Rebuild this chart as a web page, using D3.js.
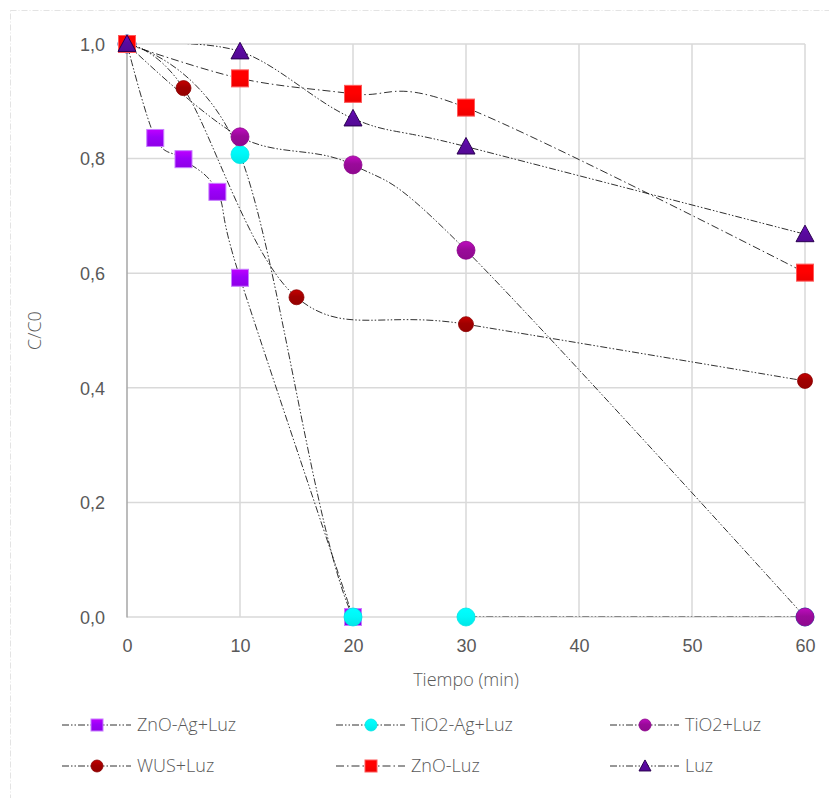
<!DOCTYPE html>
<html><head><meta charset="utf-8">
<script src="https://cdn.jsdelivr.net/npm/d3@7"></script>
<style>
body{margin:0;background:#fff;}
svg{display:block;font-family:"Open Sans","Noto Sans",sans-serif;font-weight:300;}
</style></head>
<body>
<svg id="c" width="829" height="798"></svg>
<script>
// ---- data ----
const seriesNames = ["ZnO-Ag+Luz","TiO2-Ag+Luz","TiO2+Luz","WUS+Luz","ZnO-Luz","Luz"];
const znoAgX = [0, 2.5, 5, 8, 10, 20];
const znoAgY = [1.0, 0.836, 0.799, 0.742, 0.592, 0.0];
const tio2AgX = [0, 10, 20, 30, 60];
const tio2AgY = [1.0, 0.807, 0.0, 0.0, 0.0];
const tio2X = [0, 10, 20, 30, 60];
const tio2Y = [1.0, 0.838, 0.789, 0.640, 0.0];
const wusX = [0, 5, 15, 30, 60];
const wusY = [1.0, 0.923, 0.558, 0.511, 0.412];
const znoX = [0, 10, 20, 30, 60];
const znoY = [1.0, 0.940, 0.913, 0.889, 0.601];
const luzX = [0, 10, 20, 30, 60];
const luzY = [1.0, 0.987, 0.870, 0.821, 0.668];
const xTicks = [0, 10, 20, 30, 40, 50, 60];
const yTicks = [0, 0.2, 0.4, 0.6, 0.8, 1.0];
const xTitle = "Tiempo (min)";
const yTitle = "C/C0";

const series = [
  {name: seriesNames[0], xs: znoAgX, ys: znoAgY, shape: "square", color: "#9a00f8", edge: "#c77dff", size: 17, dash: "7,2,1.5,2,1.5,2"},
  {name: seriesNames[1], xs: tio2AgX, ys: tio2AgY, shape: "circle", color: "#00f8f8", edge: "#00e6e6", size: 18, dash: "7,2,1.5,2,1.5,2"},
  {name: seriesNames[2], xs: tio2X, ys: tio2Y, shape: "circle", color: "#9a0a9a", edge: "#8a008a", size: 18, dash: "7,2,1.5,2,1.5,2"},
  {name: seriesNames[3], xs: wusX, ys: wusY, shape: "circle", color: "#a00000", edge: "#8a0000", size: 15, dash: "7,2,1.5,2,1.5,2"},
  {name: seriesNames[4], xs: znoX, ys: znoY, shape: "square", color: "#ff0000", edge: "#ff5a5a", size: 17, dash: "8,3,1.5,3"},
  {name: seriesNames[5], xs: luzX, ys: luzY, shape: "triangle", color: "#5a0aa0", edge: "#2a0050", size: 18, dash: "7,2,1.5,2,1.5,2"}
];

const svg = d3.select("#c");
const x = d3.scaleLinear().domain([0, 60]).range([127, 805]);
const y = d3.scaleLinear().domain([0, 1]).range([617, 44]);
const textCol = "#595959";
const fs = 18;

// outer border
svg.append("rect").attr("x", 10.5).attr("y", 10.5).attr("width", 840).attr("height", 820)
  .attr("fill", "none").attr("stroke", "#e3e3e3").attr("stroke-width", 1).attr("stroke-dasharray", "6,2,1,2");

const defs = svg.append("defs");
defs.append("clipPath").attr("id", "plotclip").append("rect")
  .attr("x", x(0)).attr("y", y(1)).attr("width", x(60) - x(0)).attr("height", y(0) - y(1));

// gradients for markers
series.forEach((s, i) => {
  const g = defs.append("linearGradient").attr("id", "g" + i).attr("x1", 0).attr("y1", 0).attr("x2", 0).attr("y2", 1);
  const c = d3.color(s.color);
  g.append("stop").attr("offset", "0%").attr("stop-color", c.brighter(0.6).formatHex());
  g.append("stop").attr("offset", "45%").attr("stop-color", s.color);
  g.append("stop").attr("offset", "100%").attr("stop-color", c.darker(0.2).formatHex());
});

// gridlines
const grid = svg.append("g");
grid.selectAll("line.v").data(xTicks.slice(1)).join("line")
  .attr("x1", d => x(d)).attr("x2", d => x(d)).attr("y1", y(0)).attr("y2", y(1))
  .attr("stroke", "#d9d9d9").attr("stroke-width", 1.5);
grid.selectAll("line.h").data(yTicks).join("line")
  .attr("x1", x(0)).attr("x2", x(60)).attr("y1", d => y(d)).attr("y2", d => y(d))
  .attr("stroke", "#d9d9d9").attr("stroke-width", 1.5);
// y axis line
svg.append("line").attr("x1", x(0)).attr("x2", x(0)).attr("y1", y(0) + 0.5).attr("y2", y(1))
  .attr("stroke", "#a6a6a6").attr("stroke-width", 1.5);

// axes using d3 axis
const fmt = d => d3.format(".1f")(d).replace(".", ",");
const yAxis = svg.append("g").attr("transform", `translate(${x(0) - 19},0)`)
  .call(d3.axisLeft(y).tickValues(yTicks).tickFormat(fmt).tickSize(0));
yAxis.select(".domain").remove();
yAxis.selectAll("text").attr("fill", textCol).attr("font-size", fs).attr("dy", "0.35em");

const xAxis = svg.append("g").attr("transform", `translate(0,${y(0) + 19})`)
  .call(d3.axisBottom(x).tickValues(xTicks).tickFormat(d3.format("d")).tickSize(0));
xAxis.select(".domain").remove();
xAxis.selectAll("text").attr("fill", textCol).attr("font-size", fs).attr("dy", "0.71em");

svg.append("text").attr("x", (x(0) + x(60)) / 2).attr("y", 680).attr("dy", "0.35em")
  .attr("text-anchor", "middle").attr("fill", textCol).attr("font-size", fs).text(xTitle);
svg.append("text").attr("transform", `translate(35,${(y(0) + y(1)) / 2}) rotate(-90)`).attr("dy", "0.35em")
  .attr("text-anchor", "middle").attr("fill", textCol).attr("font-size", fs).text(yTitle);

// lines
const line = d3.line().x(d => x(d[0])).y(d => y(d[1])).curve(d3.curveCardinal.tension(0));
const lineG = svg.append("g").attr("clip-path", "url(#plotclip)");
series.forEach(s => {
  const pts = s.xs.map((v, i) => [v, s.ys[i]]);
  lineG.append("path").attr("d", line(pts)).attr("fill", "none")
    .attr("stroke", "#1a1a1a").attr("stroke-width", 0.9).attr("stroke-dasharray", s.dash);
});

function marker(g, s, i, cx, cy, size) {
  const fill = `url(#g${i})`;
  if (s.shape === "square") {
    g.append("rect").attr("x", cx - size / 2).attr("y", cy - size / 2).attr("width", size).attr("height", size)
      .attr("fill", fill).attr("stroke", s.edge).attr("stroke-width", 1);
  } else if (s.shape === "circle") {
    g.append("circle").attr("cx", cx).attr("cy", cy).attr("r", size / 2)
      .attr("fill", fill).attr("stroke", s.edge).attr("stroke-width", 0.8);
  } else {
    const h = size * 0.92;
    g.append("path").attr("d", `M${cx},${cy - h * 0.55}L${cx + size / 2},${cy + h * 0.45}L${cx - size / 2},${cy + h * 0.45}Z`)
      .attr("fill", fill).attr("stroke", s.edge).attr("stroke-width", 1);
  }
}

// markers
const mG = svg.append("g");
series.forEach((s, i) => {
  s.xs.forEach((v, j) => marker(mG, s, i, x(v), y(s.ys[j]), s.size));
});

// legend
const legCols = [62, 336, 610];
const legRows = [725, 766];
const leg = svg.append("g");
series.forEach((s, i) => {
  const lx = legCols[i % 3], ly = legRows[Math.floor(i / 3)];
  leg.append("line").attr("x1", lx).attr("x2", lx + 69).attr("y1", ly).attr("y2", ly)
    .attr("stroke", "#1a1a1a").attr("stroke-width", 0.9).attr("stroke-dasharray", s.dash);
  marker(leg, s, i, lx + 35, ly, s.shape === "triangle" ? 12 : 12);
  leg.append("text").attr("x", lx + 75).attr("y", ly).attr("dy", "0.35em")
    .attr("fill", textCol).attr("font-size", fs).text(s.name);
});
</script>
</body></html>
